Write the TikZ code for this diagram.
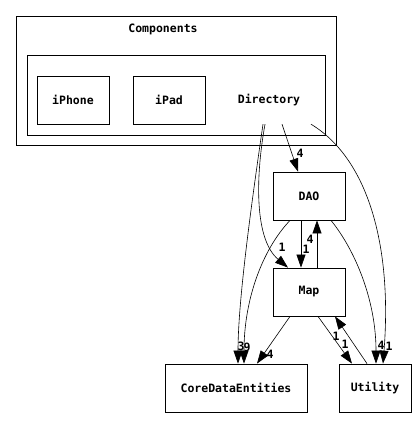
\documentclass[tikz,border=0pt]{standalone}
\usepackage{fontspec}
\setmonofont{DejaVu Sans Mono}
\usetikzlibrary{arrows.meta}

\tikzset{
  label font/.style={font=\ttfamily\bfseries\fontsize{11.5}{13}\selectfont},
  box/.style={draw, label font, line width=0.8pt, minimum width=72pt, minimum height=48pt, inner sep=0pt},
  plain/.style={label font, minimum width=90pt, minimum height=48pt, inner sep=0pt},
  dep/.style={line width=0.6pt, -{Triangle[length=13pt, width=9pt]}},
  num/.style={label font, inner sep=0pt}
}

\begin{document}
\begin{tikzpicture}[x=1pt, y=-1pt]
\useasboundingbox (0,0) rectangle (416,428);

% Clusters
\draw[line width=0.8pt] (16,16) rectangle (336,145); % Components
\draw[line width=0.8pt] (27,55) rectangle (325,135);
\node[num] (components) at (163,29) {Components};

% Modules
\node[box] (iPhone) at (73,100) {iPhone};
\node[box] (iPad) at (169,100) {iPad};
\node[plain] (Directory) at (269,100) {Directory};
\node[box] (DAO) at (309,196) {DAO};
\node[box] (Map) at (309,292) {Map};
\node[box, minimum width=142pt] (CoreData) at (236,388) {CoreDataEntities};
\node[box] (Utility) at (375,388) {Utility};

% Dependencies from Directory
\draw[dep] ([xshift=13pt]Directory.south) -- ([xshift=-11pt]DAO.north);
\draw[dep] ([xshift=-4pt]Directory.south) .. controls (255,180) and (255,240) .. ([xshift=-21pt]Map.north);
\draw[dep] ([xshift=-6pt]Directory.south) .. controls (252,200) and (238,300) .. ([xshift=2pt]CoreData.north);
\draw[dep] ([xshift=42pt]Directory.south) .. controls (370,160) and (392,250) .. ([xshift=8pt]Utility.north);

% Dependencies from DAO
\draw[dep] ([xshift=-8pt]DAO.south) -- ([xshift=-8pt]Map.north);
\draw[dep] ([xshift=-19pt]DAO.south) .. controls (262,250) and (244,300) .. ([xshift=8pt]CoreData.north);
\draw[dep] ([xshift=22pt]DAO.south) .. controls (355,250) and (376,300) .. ([xshift=1pt]Utility.north);

% Dependencies from Map
\draw[dep] ([xshift=8pt]Map.north) -- ([xshift=8pt]DAO.south);
\draw[dep] ([xshift=-19pt]Map.south) -- ([xshift=21pt]CoreData.north);
\draw[dep] ([xshift=9pt]Map.south) -- ([xshift=-23pt]Utility.north);

% Dependency from Utility
\draw[dep] ([xshift=-8pt]Utility.north) -- ([xshift=26pt]Map.south);

% Counts
\node[num] (c1) at (300,153) {4};
\node[num] (c2) at (282,247) {1};
\node[num] (c3) at (241,346) {3};
\node[num] (c4) at (389,346) {1};
\node[num] (c5) at (306,249) {1};
\node[num] (c6) at (310,239) {4};
\node[num] (c7) at (247,347) {9};
\node[num] (c8) at (381,345) {4};
\node[num] (c9) at (270,354) {4};
\node[num] (c10) at (345,344) {1};
\node[num] (c11) at (336,336) {1};

\end{tikzpicture}
\end{document}
